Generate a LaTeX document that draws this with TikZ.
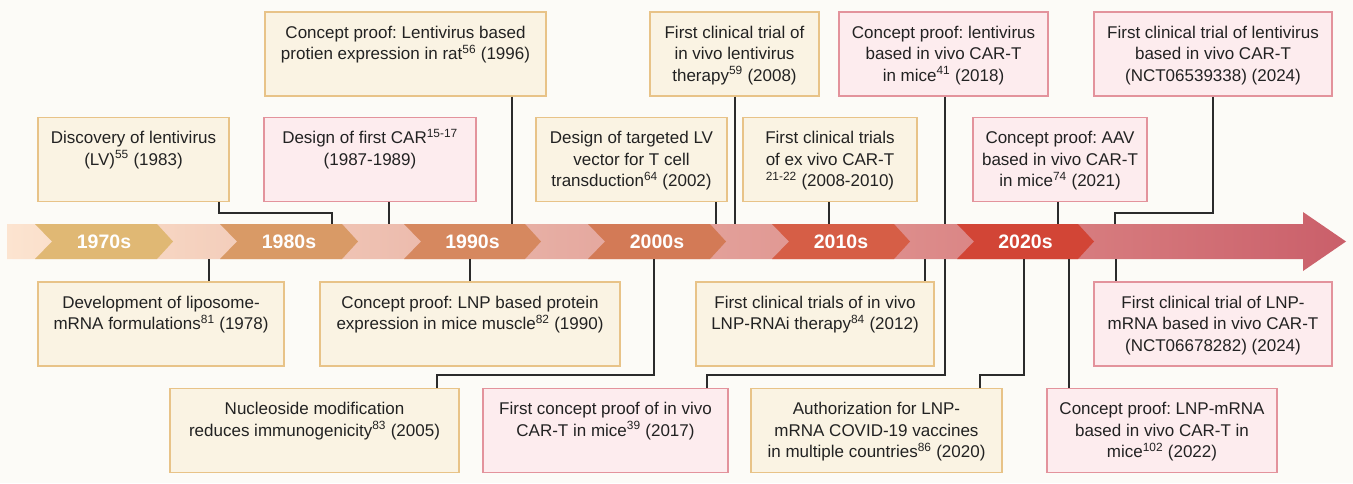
\documentclass[tikz,border=0pt]{standalone}
\usepackage{fontspec}
\setmainfont{Liberation Sans}
\frenchspacing
\definecolor{bg}{HTML}{FCFBF7}
\definecolor{creamF}{HTML}{FAF3E3}
\definecolor{creamB}{HTML}{E8C388}
\definecolor{pinkF}{HTML}{FDECEE}
\definecolor{pinkB}{HTML}{E3939C}
\definecolor{ink}{HTML}{222222}
\definecolor{lineC}{HTML}{2B2B2B}
\definecolor{c70}{HTML}{E0B874}
\definecolor{c80}{HTML}{D99A66}
\definecolor{c90}{HTML}{D6885F}
\definecolor{c00}{HTML}{D37A56}
\definecolor{c10}{HTML}{D65E46}
\definecolor{c20}{HTML}{D24536}
\definecolor{b0}{HTML}{FCE4D0}
\definecolor{b1}{HTML}{F5D2BF}
\definecolor{b2}{HTML}{EEC0B1}
\definecolor{b3}{HTML}{E6ACA2}
\definecolor{b4}{HTML}{E29D97}
\definecolor{b5}{HTML}{DC8A89}
\definecolor{b6}{HTML}{D67A7D}
\definecolor{b7}{HTML}{CA5F6A}
\pgfdeclarehorizontalshading{bandshade}{100bp}{color(0bp)=(b0); color(25bp)=(b0); color(31.83bp)=(b1); color(38.74bp)=(b2); color(45.65bp)=(b3); color(52.56bp)=(b4); color(59.47bp)=(b5); color(65.82bp)=(b6); color(75bp)=(b7); color(100bp)=(b7)}
\newcommand{\evbox}[6]{%
  \node[#2, minimum width=#5pt] (#1) at (#3,#4) {};
  \node[txt] (#1t) at ([yshift=-11.5pt]#1.north) {\strut #6};
}
\newcommand{\chev}[3]{%
  \fill[#3] (#1,224) -- (#2,224) -- ++(16,17.5) -- ++(-16,17.5) -- (#1,259) -- ++(17,-17.5) -- cycle;
}
\tikzset{
  cbox/.style={draw=creamB, fill=creamF, line width=1.1pt, minimum height=84pt, inner sep=0pt},
  pbox/.style={draw=pinkB, fill=pinkF, line width=1.1pt, minimum height=84pt, inner sep=0pt},
  txt/.style={anchor=north, align=center, inner sep=0pt, font=\fontsize{17}{21.5}\selectfont\frenchspacing, text=ink},
  conn/.style={draw=lineC, line width=1.1pt},
  dec/.style={font=\fontsize{19.5}{20}\selectfont\bfseries, text=white, inner sep=0pt},
}
\begin{document}
\begin{tikzpicture}[x={(1pt,0)}, y={(0,-1pt)}]
\useasboundingbox (0,0) rectangle (1353,483);
\fill[bg] (0,0) rectangle (1353,483);

% band
\shade[shading=bandshade] (7,224) -- (1303,224) -- (1303,212) -- (1346,241.5) -- (1303,271) -- (1303,259) -- (7,259) -- cycle;
\chev{35}{157}{c70}
\chev{220}{342}{c80}
\chev{404}{525}{c90}
\chev{588}{710}{c00}
\chev{772}{894}{c10}
\chev{957}{1078}{c20}
\node[dec] (d70) at (104,241.5) {1970s};
\node[dec] (d80) at (289,241.5) {1980s};
\node[dec] (d90) at (472.5,241.5) {1990s};
\node[dec] (d00) at (657,241.5) {2000s};
\node[dec] (d10) at (841,241.5) {2010s};
\node[dec] (d20) at (1025.5,241.5) {2020s};

% boxes: top upper
\evbox{A}{cbox}{405.5}{54}{281}{Concept proof: Lentivirus based\\protien expression in rat\textsuperscript{56} (1996)}
\evbox{B}{cbox}{734.5}{54}{169}{First clinical trial of\\in vivo lentivirus\\therapy\textsuperscript{59} (2008)}
\evbox{C}{pbox}{943.5}{54}{209}{Concept proof: lentivirus\\based in vivo CAR-T\\in mice\textsuperscript{41} (2018)}
\evbox{D}{pbox}{1213}{54}{238}{First clinical trial of lentivirus\\based in vivo CAR-T\\(NCT06539338) (2024)}
% top lower
\evbox{E}{cbox}{133.5}{159.5}{191}{Discovery of lentivirus\\(LV)\textsuperscript{55} (1983)}
\evbox{F}{pbox}{370}{159.5}{212}{Design of first CAR\textsuperscript{15-17}\\(1987-1989)}
\evbox{G}{cbox}{631.5}{159.5}{191}{Design of targeted LV\\vector for T cell\\transduction\textsuperscript{64} (2002)}
\evbox{H}{cbox}{830}{159.5}{174}{First clinical trials\\of ex vivo CAR-T\\\textsuperscript{21-22} (2008-2010)}
\evbox{I}{pbox}{1060}{159.5}{174}{Concept proof: AAV\\based in vivo CAR-T\\in mice\textsuperscript{74} (2021)}
% bottom upper
\evbox{J}{cbox}{161}{324}{246}{Development of liposome-\\mRNA formulations\textsuperscript{81} (1978)}
\evbox{K}{cbox}{470}{324}{300}{Concept proof: LNP based protein\\expression in mice muscle\textsuperscript{82} (1990)}
\evbox{L}{cbox}{815}{324}{238}{First clinical trials of in vivo\\LNP-RNAi therapy\textsuperscript{84} (2012)}
\evbox{M}{pbox}{1213}{324}{238}{First clinical trial of LNP-\\mRNA based in vivo CAR-T\\(NCT06678282) (2024)}
% bottom lower
\evbox{N}{cbox}{314.5}{430.5}{289}{Nucleoside modification\\reduces immunogenicity\textsuperscript{83} (2005)}
\evbox{O}{pbox}{605.5}{430.5}{245}{First concept proof of in vivo\\CAR-T in mice\textsuperscript{39} (2017)}
\evbox{P}{cbox}{876.5}{430.5}{251}{Authorization for LNP-\\mRNA COVID-19 vaccines\\in multiple countries\textsuperscript{86} (2020)}
\evbox{Q}{pbox}{1162}{430.5}{230}{Concept proof: LNP-mRNA\\based in vivo CAR-T in\\mice\textsuperscript{102} (2022)}

% band attach points
\coordinate (kE) at (219,213);
\coordinate (bE) at (332,224);
\coordinate (bF) at (389,224);
\coordinate (bA) at (512,224);
\coordinate (bG) at (716,224);
\coordinate (bB) at (735,224);
\coordinate (bH) at (829,224);
\coordinate (bC) at (945,224);
\coordinate (bI) at (1058,224);
\coordinate (kD) at (1213,213);
\coordinate (bD) at (1115,224);
\coordinate (tJ) at (209,259);
\coordinate (tK) at (470,259);
\coordinate (tL) at (925,259);
\coordinate (tM) at (1116,259);
\coordinate (tN) at (654,259);
\coordinate (kN) at (437,375);
\coordinate (tO) at (945,259);
\coordinate (kO) at (707,375);
\coordinate (tP) at (1024,259);
\coordinate (kP) at (980,375);
\coordinate (tQ) at (1069,259);

% connectors
\draw[conn] (E.south -| kE) -- (kE) -| (bE);
\draw[conn] (F.south -| bF) -- (bF);
\draw[conn] (A.south -| bA) -- (bA);
\draw[conn] (G.south -| bG) -- (bG);
\draw[conn] (B.south -| bB) -- (bB);
\draw[conn] (H.south -| bH) -- (bH);
\draw[conn] (C.south -| bC) -- (bC);
\draw[conn] (I.south -| bI) -- (bI);
\draw[conn] (D.south -| kD) -- (kD) -| (bD);
\draw[conn] (tJ) -- (J.north -| tJ);
\draw[conn] (tK) -- (K.north -| tK);
\draw[conn] (tL) -- (L.north -| tL);
\draw[conn] (tM) -- (M.north -| tM);
\draw[conn] (tN) |- (kN) -- (N.north -| kN);
\draw[conn] (tO) |- (kO) -- (O.north -| kO);
\draw[conn] (tP) |- (kP) -- (P.north -| kP);
\draw[conn] (tQ) -- (Q.north -| tQ);
\end{tikzpicture}
\end{document}
